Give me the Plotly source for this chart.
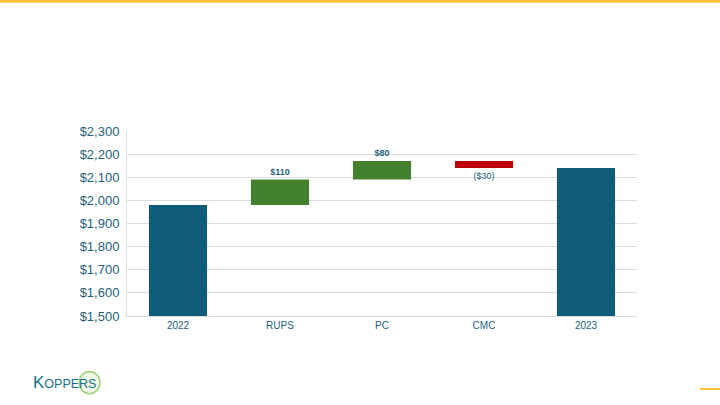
import plotly.graph_objects as go

# Data for the chart
categories = ["2022", "RUPS", "PC", "CMC", "2023"]
values = [1980, 110, 80, -30, 2140]
measures = ["absolute", "relative", "relative", "relative", "total"]
labels = ["", "<b>$110</b>", "<b>$80</b>", "($30)", ""]

TEAL = "#0E5C78"
GREEN = "#44812F"
RED = "#C00000"
TEXT = "#1F5F7B"

fig = go.Figure(go.Waterfall(
    x=categories,
    y=values,
    measure=measures,
    text=labels,
    textposition="outside",
    textfont=dict(color=TEXT, size=9, family="Liberation Sans, Arial"),
    connector=dict(visible=False),
    increasing=dict(marker=dict(color=GREEN)),
    decreasing=dict(marker=dict(color=RED)),
    totals=dict(marker=dict(color=TEAL)),
    cliponaxis=False,
    showlegend=False,
))

fig.update_layout(
    width=720,
    height=405,
    margin=dict(l=127, r=83, t=131, b=89),
    paper_bgcolor="white",
    plot_bgcolor="white",
    waterfallgap=0.43,
    font=dict(family="Liberation Sans, Arial", color=TEXT),
)

fig.update_yaxes(
    range=[1500, 2300],
    dtick=100,
    tickprefix="$",
    tickformat=",",
    showgrid=True,
    gridcolor="#DDDDDD",
    showline=True,
    linecolor="#DDDDDD",
    zeroline=False,
    tickfont=dict(size=13, color=TEXT),
    ticks="",
    ticklabelstandoff=4,
)
fig.update_xaxes(
    showline=True,
    linecolor="#DDDDDD",
    tickfont=dict(size=10, color=TEXT),
    ticks="",
)

# Slide decorations: yellow top rule, orange bottom mark, logo
fig.add_shape(type="rect", xref="paper", yref="paper",
              x0=-0.25, x1=1.17, y0=1.693, y1=1.71,
              fillcolor="#FFC23D", line_width=0, layer="above")
fig.add_shape(type="rect", xref="paper", yref="paper",
              x0=1.1235, x1=1.17, y0=-0.4, y1=-0.389,
              fillcolor="#FFC23D", line_width=0, layer="above")
fig.add_shape(type="circle", xref="paper", yref="paper",
              x0=-0.094, x1=-0.053, y0=-0.42, y1=-0.30,
              fillcolor="rgba(190,225,160,0.25)", line=dict(color="rgba(120,190,70,0.7)", width=1.5))
fig.add_annotation(
    xref="paper", yref="paper", x=-0.188, y=-0.362,
    xanchor="left", yanchor="middle", showarrow=False,
    text="<span style='font-size:17px'>K</span>OPPERS",
    font=dict(family="Liberation Sans, Arial", size=12.5, color="#176F8A"),
)

fig.write_html("out.html", config={"displayModeBar": False},
               post_script="document.body.style.margin='0';")
